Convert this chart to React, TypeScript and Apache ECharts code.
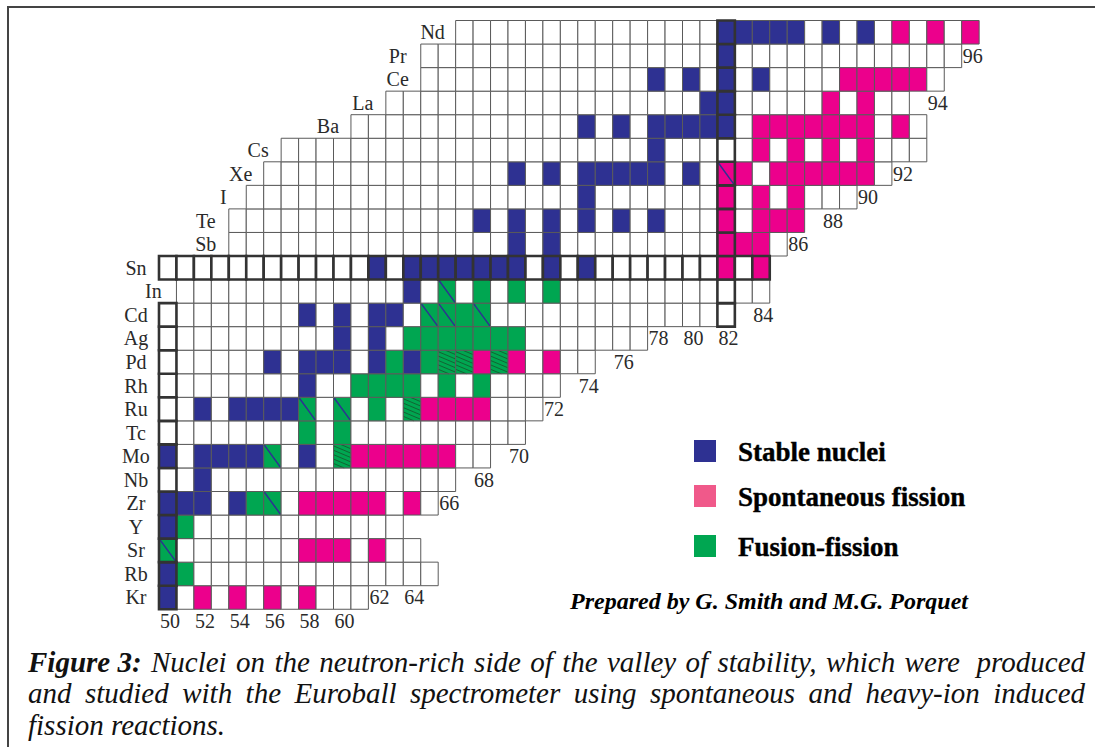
import React, { useEffect, useRef } from "react";
import * as echarts from "echarts";

// ---------- data ----------
const elementSymbols = ["Kr", "Rb", "Sr", "Y", "Zr", "Nb", "Mo", "Tc", "Ru", "Rh", "Pd", "Ag", "Cd", "In", "Sn", "Sb", "Te", "I", "Xe", "Cs", "Ba", "La", "Ce", "Pr", "Nd"];
const protonNumbers = [36, 37, 38, 39, 40, 41, 42, 43, 44, 45, 46, 47, 48, 49, 50, 51, 52, 53, 54, 55, 56, 57, 58, 59, 60];
const firstNeutron = [50, 50, 50, 50, 50, 50, 50, 50, 50, 50, 50, 50, 50, 51, 50, 54, 54, 55, 56, 57, 61, 63, 65, 65, 67];
const lastNeutron = [61, 65, 64, 63, 65, 66, 68, 70, 71, 72, 74, 77, 82, 84, 84, 85, 86, 89, 91, 93, 93, 92, 94, 95, 96];

const stableNeutrons: number[][] = [
  [50], [50], [50], [50], [50, 51, 52, 54, 56], [52], [50, 52, 53, 54, 55, 56, 58], [],
  [52, 54, 55, 56, 57, 58, 60], [58], [56, 58, 59, 60, 62, 64], [60, 62],
  [58, 60, 62, 63, 65, 66, 68], [64, 66], [62, 64, 65, 66, 67, 68, 69, 70, 72, 74],
  [70, 72], [68, 70, 72, 74, 76, 78], [74], [70, 72, 74, 75, 76, 77, 78, 80, 82], [78],
  [74, 76, 78, 79, 80, 81, 82], [81, 82], [78, 80, 82, 84], [82], [82, 83, 84, 85, 86, 88, 90],
];
const spontaneousFissionNeutrons: number[][] = [
  [52, 54, 56, 58], [], [58, 59, 60, 62], [], [58, 59, 60, 61, 62, 64], [], [60, 61, 62, 63, 64, 65, 66], [],
  [64, 65, 66, 67, 68], [], [66, 67, 68, 69, 70, 72], [], [], [], [82, 84],
  [82, 83, 84], [82, 84, 85, 86], [82, 84, 86], [82, 83, 85, 86, 87, 88, 89, 90], [84, 86, 88, 90],
  [84, 85, 86, 87, 88, 89, 90, 92], [88, 90], [89, 90, 91, 92, 93], [], [92, 94, 96],
];
const fusionFissionNeutrons: number[][] = [
  [], [51], [50], [51], [55, 56], [], [56, 60], [58, 60],
  [58, 60, 62, 64], [61, 62, 63, 64, 66, 68], [63, 65, 66, 67, 69], [64, 65, 66, 67, 68, 69, 70],
  [65, 66, 67, 68], [66, 68, 70, 72], [],
  [], [], [], [], [], [], [], [], [], [],
];
const magicNumbers = [50, 82];
const neutronTickLabels = [50, 52, 54, 56, 58, 60, 62, 64, 66, 68, 70, 72, 74, 76, 78, 80, 82, 84, 86, 88, 90, 92, 94, 96];

const legendLabels = ["Stable nuclei", "Spontaneous fission", "Fusion-fission"];
const creditText = "Prepared by G. Smith and M.G. Porquet";
const captionLead = "Figure 3:";
const captionLines = [
  "Nuclei on the neutron-rich side of the valley of stability, which were  produced",
  "and studied with the Euroball spectrometer using spontaneous and heavy-ion induced",
  "fission reactions.",
];

// ---------- styles ----------
const BLUE = "#2E3192";
const MAGENTA = "#EC008C";
const GREEN = "#00A651";
const LEGEND_COLORS = [BLUE, "#F0598A", GREEN];
const SERIF = "'Liberation Serif', 'Times New Roman', serif";

// kind codes
const K_WHITE = 0, K_STABLE = 1, K_SF = 2, K_FF = 3, K_FF_DIAG = 4, K_SF_DIAG = 5, K_HATCH = 6;
const FILL: Record<number, string> = {
  [K_WHITE]: "#FFFFFF", [K_STABLE]: BLUE, [K_SF]: MAGENTA, [K_FF]: GREEN,
  [K_FF_DIAG]: GREEN, [K_SF_DIAG]: MAGENTA, [K_HATCH]: GREEN,
};

function buildCells() {
  const normal: number[][] = [];
  const magic: number[][] = [];
  elementSymbols.forEach((_, i) => {
    const z = protonNumbers[i];
    for (let n = firstNeutron[i]; n <= lastNeutron[i]; n++) {
      const s = stableNeutrons[i].includes(n);
      const p = spontaneousFissionNeutrons[i].includes(n);
      const f = fusionFissionNeutrons[i].includes(n);
      let kind = K_WHITE;
      if (s && f) kind = K_FF_DIAG;
      else if (s && p) kind = K_SF_DIAG;
      else if (p && f) kind = K_HATCH;
      else if (s) kind = K_STABLE;
      else if (p) kind = K_SF;
      else if (f) kind = K_FF;
      const isMagic = magicNumbers.includes(z) || magicNumbers.includes(n);
      (isMagic ? magic : normal).push([n, z, kind]);
    }
  });
  return { normal, magic };
}

function cellRenderer(thick: boolean) {
  return (_params: any, api: any) => {
    const n = api.value(0) as number;
    const z = api.value(1) as number;
    const kind = api.value(2) as number;
    const tl = api.coord([n, z + 1]);
    const br = api.coord([n + 1, z]);
    const x = tl[0], y = tl[1], w = br[0] - tl[0], h = br[1] - tl[1];
    const children: any[] = [
      { type: "rect", shape: { x, y, width: w, height: h }, style: { fill: FILL[kind], stroke: null } },
    ];
    if (kind === K_FF_DIAG || kind === K_SF_DIAG) {
      children.push({ type: "line", shape: { x1: x + 0.5, y1: y + 0.5, x2: x + w - 0.5, y2: y + h - 0.5 }, style: { stroke: BLUE, lineWidth: 1.5 } });
    }
    if (kind === K_HATCH) {
      const k = 0.42;
      for (let c = -k * w; c < h; c += 4.4) {
        const t0 = Math.max(0, -c / k);
        const t1 = Math.min(w, (h - c) / k);
        if (t1 > t0 + 0.5) {
          children.push({ type: "line", shape: { x1: x + t0, y1: y + c + k * t0, x2: x + t1, y2: y + c + k * t1 }, style: { stroke: "#17532C", lineWidth: 0.8 } });
        }
      }
    }
    children.push({
      type: "rect", shape: { x, y, width: w, height: h },
      style: { fill: null, stroke: thick ? "#333333" : "#5A5A5A", lineWidth: thick ? 2.6 : 1 },
    });
    return { type: "group", children };
  };
}

function textRenderer(getText: (idx: number) => string, align: string, dx: number) {
  return (_params: any, api: any) => {
    const idx = api.value(2) as number;
    const pt = api.coord([api.value(0), api.value(1)]);
    return {
      type: "text",
      x: pt[0] + dx,
      y: pt[1],
      style: {
        text: getText(idx),
        font: `20px ${SERIF}`,
        fill: "#2A2A2A",
        align, verticalAlign: "middle",
        textAlign: align, textVerticalAlign: "middle",
      },
    };
  };
}

function buildCaption(): any[] {
  const canvas = document.createElement("canvas");
  const ctx = canvas.getContext("2d")!;
  const italic = `italic 29px ${SERIF}`;
  const boldItalic = `italic bold 29px ${SERIF}`;
  const measure = (t: string, f: string) => { ctx.font = f; return ctx.measureText(t).width; };
  const spaceW = measure(" ", italic);
  const left = 28, right = 1085;
  const centers = [661.8, 693.4, 725.1];
  const out: any[] = [];
  captionLines.forEach((line, li) => {
    const tokens: { text: string; font: string; spaces: number }[] = [];
    if (li === 0) tokens.push({ text: captionLead, font: boldItalic, spaces: 1 });
    const re = /(\S+)(\s*)/g;
    let m: RegExpExecArray | null;
    while ((m = re.exec(line))) tokens.push({ text: m[1], font: italic, spaces: m[2].length });
    const justify = li < captionLines.length - 1;
    const widths = tokens.map((t) => measure(t.text, t.font));
    let extra = 0;
    if (justify) {
      const natural = widths.reduce((a, b) => a + b, 0) + tokens.slice(0, -1).reduce((a, t) => a + t.spaces * spaceW, 0);
      extra = (right - left - natural) / (tokens.length - 1);
    }
    let x = left;
    tokens.forEach((t, i) => {
      out.push({
        type: "text", x, y: centers[li],
        style: { text: t.text, font: t.font, fill: "#111111", align: "left", verticalAlign: "middle", textAlign: "left", textVerticalAlign: "middle" },
      });
      x += widths[i] + t.spaces * spaceW + extra;
    });
  });
  return out;
}

export default function App() {
  const ref = useRef<HTMLDivElement>(null);
  useEffect(() => {
    if (!ref.current) return;
    const chart = echarts.init(ref.current, undefined, { renderer: "svg" });
    const { normal, magic } = buildCells();

    const elementLabelData = elementSymbols.map((_, i) => [firstNeutron[i] - 1.32, protonNumbers[i] + 0.5, i]);
    const neutronLabelData = neutronTickLabels.map((n, i) => {
      let minZ = Infinity;
      protonNumbers.forEach((z, r) => { if (firstNeutron[r] <= n && n <= lastNeutron[r] && z < minZ) minZ = z; });
      return [n, minZ - 0.5, i];
    });

    const graphic: any[] = [
      { type: "line", shape: { x1: 7, y1: 7, x2: 1095, y2: 7 }, style: { stroke: "#444", lineWidth: 2 } },
      { type: "line", shape: { x1: 8, y1: 6, x2: 8, y2: 747 }, style: { stroke: "#444", lineWidth: 2 } },
    ];
    const legendY = [440, 485, 535];
    legendLabels.forEach((label, i) => {
      graphic.push({ type: "rect", shape: { x: 694, y: legendY[i], width: 22, height: 22 }, style: { fill: LEGEND_COLORS[i] } });
      graphic.push({
        type: "text", x: 738, y: legendY[i] + 12,
        style: { text: label, font: `bold 27px ${SERIF}`, fill: "#000", stroke: "#000", lineWidth: 0.4, align: "left", verticalAlign: "middle", textAlign: "left", textVerticalAlign: "middle" },
      });
    });
    graphic.push({
      type: "text", x: 570, y: 601,
      style: { text: creditText, font: `italic bold 24px ${SERIF}`, fill: "#000", align: "left", verticalAlign: "middle", textAlign: "left", textVerticalAlign: "middle" },
    });
    graphic.push(...buildCaption());

    chart.setOption({
      animation: false,
      backgroundColor: "#FFFFFF",
      grid: { left: 159, top: 20.5, width: 47 * 17.45, height: 25 * 23.55 },
      xAxis: { type: "value", min: 50, max: 97, show: false },
      yAxis: { type: "value", min: 36, max: 61, show: false },
      series: [
        { type: "custom", data: normal, renderItem: cellRenderer(false), z: 2, silent: true },
        { type: "custom", data: magic, renderItem: cellRenderer(true), z: 3, silent: true },
        { type: "custom", data: elementLabelData, renderItem: textRenderer((i) => elementSymbols[i], "center", 0), z: 4, silent: true },
        { type: "custom", data: neutronLabelData, renderItem: textRenderer((i) => String(neutronTickLabels[i]), "left", 1), z: 4, silent: true },
      ],
      graphic,
    });
    return () => chart.dispose();
  }, []);
  return <div ref={ref} style={{ position: "absolute", left: 0, top: 0, width: 1095, height: 747, background: "#fff" }} />;
}
